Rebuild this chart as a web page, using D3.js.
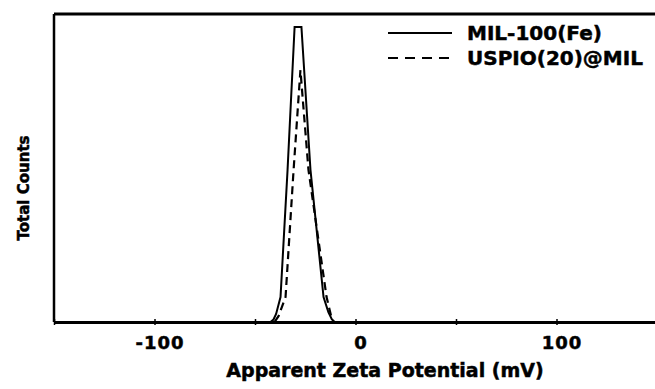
<!DOCTYPE html>
<html>
<head>
<meta charset="utf-8">
<script src="https://cdn.jsdelivr.net/npm/d3@7"></script>
<style>
  body { margin: 0; background: #fff; }
  text { font-family: "DejaVu Sans", sans-serif; font-weight: bold; fill: #000; stroke: #000; stroke-width: 0.5; }
</style>
</head>
<body>
<svg id="chart" width="655" height="389"></svg>
<script>
// zeta potential (mV) vs counts
const milX = [-150, -42.3, -40.8, -39.5, -37.3, -33.8, -30.3, -26.9, -22.4, -15.9, -13.5, -11.8, -10.4, 150];
const milY = [0, 0, 0.8, 2.6, 8.1, 49.4, 95.8, 95.8, 49.4, 8.1, 3.2, 0.9, 0, 0];
const uspioX = [-150, -40.3, -38.3, -34.8, -30.8, -27.4, -23.4, -14.4, -11.9, -10.9, 150];
const uspioY = [0, 0, 1.9, 8.1, 49.4, 81.8, 49.4, 8.1, 1.3, 0, 0];
const tickVals = [-150, -100, -50, 0, 50, 100, 150];
const labelVals = [-100, 0, 100];
const seriesNames = ["MIL-100(Fe)", "USPIO(20)@MIL"];

const svg = d3.select('#chart');
const x = d3.scaleLinear().domain([-150, 150]).range([54, 657]);
const y = d3.scaleLinear().domain([0, 100]).range([322, 14]);

// frame: top and left
svg.append('line')
    .attr('x1', x(-150)).attr('x2', x(150))
    .attr('y1', y(100)).attr('y2', y(100))
    .attr('stroke', '#000').attr('stroke-width', 3);
svg.append('line')
    .attr('x1', x(-150)).attr('x2', x(-150))
    .attr('y1', y(100)).attr('y2', y(0))
    .attr('stroke', '#000').attr('stroke-width', 2.5);

const line = d3.line().x(d => x(d[0])).y(d => y(d[1]));
const milData = milX.map((v, i) => [v, milY[i]]);
const uspioData = uspioX.map((v, i) => [v, uspioY[i]]);

svg.append('path')
    .attr('d', line(uspioData))
    .attr('fill', 'none')
    .attr('stroke', '#000')
    .attr('stroke-width', 2.2)
    .attr('stroke-dasharray', '8,5');
svg.append('path')
    .attr('d', line(milData))
    .attr('fill', 'none')
    .attr('stroke', '#000')
    .attr('stroke-width', 2);

// x axis
const xAxis = svg.append('g')
    .attr('transform', `translate(0,${y(0)})`)
    .call(d3.axisBottom(x).tickValues(tickVals).tickSize(3).tickSizeOuter(0)
        .tickFormat(d => labelVals.includes(d) ? d : ''));
xAxis.select('.domain').attr('stroke', '#000').attr('stroke-width', 3);
xAxis.selectAll('.tick line').attr('y1', -3).attr('y2', 3).attr('stroke-width', 1.5);
xAxis.selectAll('.tick text')
    .attr('font-size', 18)
    .attr('font-family', '"DejaVu Sans", sans-serif')
    .attr('font-weight', 'bold')
    .attr('letter-spacing', 1)
    .attr('y', 14)
    .attr('dx', 5);

svg.append('text')
    .attr('x', 385).attr('y', 377)
    .attr('text-anchor', 'middle')
    .attr('font-size', 19)
    .text('Apparent Zeta Potential (mV)');

svg.append('text')
    .attr('transform', 'translate(29,188) rotate(-90)')
    .attr('text-anchor', 'middle')
    .attr('font-size', 15)
    .text('Total Counts');

// legend
const legend = svg.append('g');
seriesNames.forEach((name, i) => {
    const ly = 33 + i * 25;
    legend.append('line')
        .attr('x1', 388).attr('x2', 452)
        .attr('y1', ly).attr('y2', ly)
        .attr('stroke', '#000').attr('stroke-width', 2)
        .attr('stroke-dasharray', i === 1 ? '10,7' : null);
    legend.append('text')
        .attr('x', 467).attr('y', ly + 7)
        .attr('font-size', 20)
        .text(name);
});
</script>
</body>
</html>
